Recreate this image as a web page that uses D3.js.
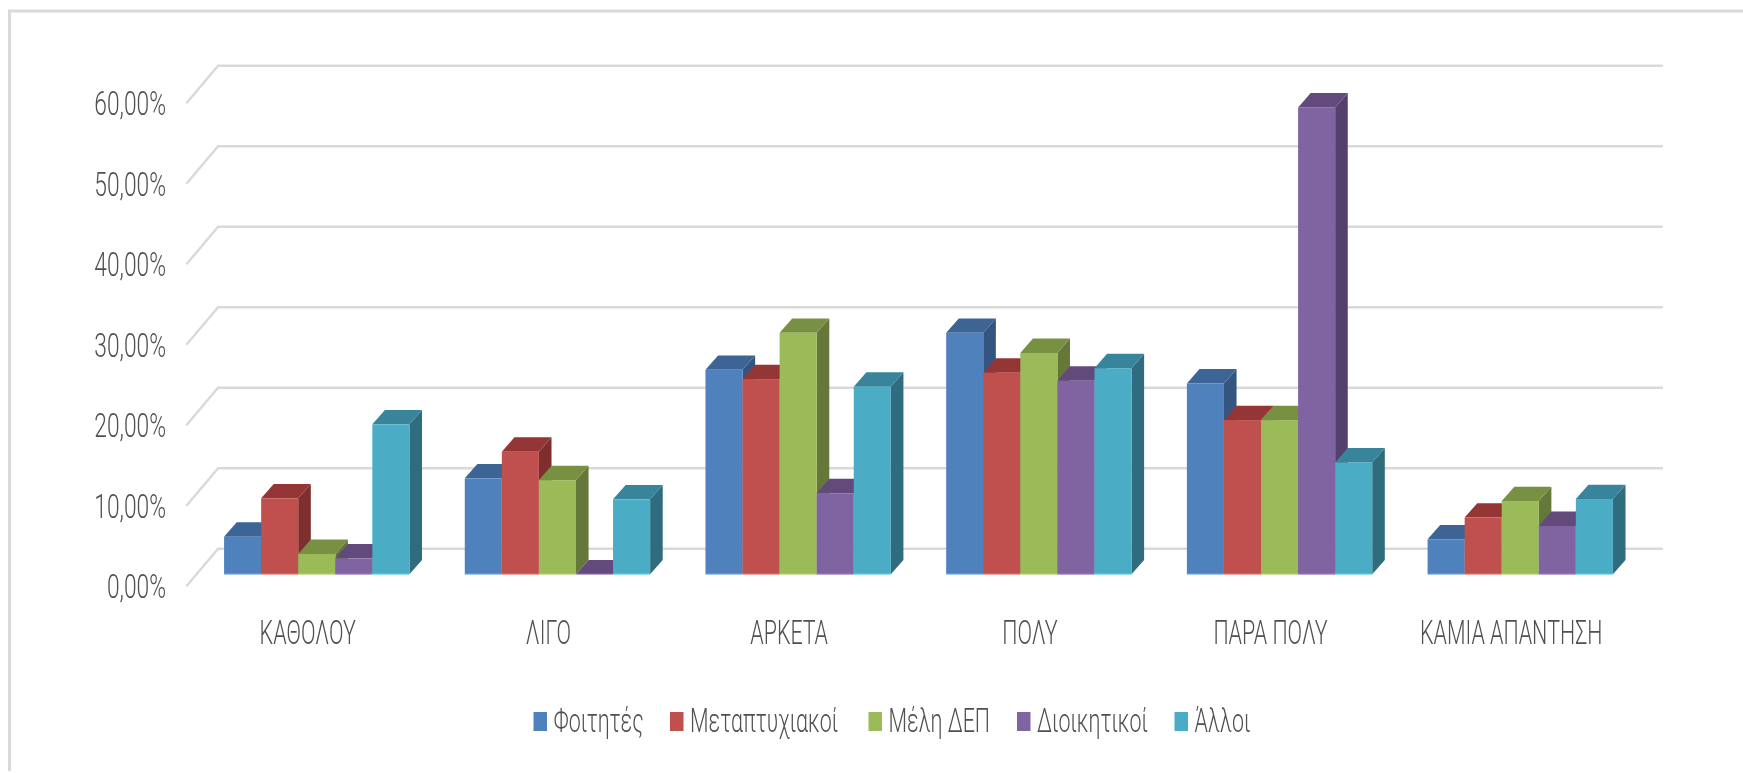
<!DOCTYPE html>
<html>
<head>
<meta charset="utf-8">
<script src="https://cdn.jsdelivr.net/npm/d3@7"></script>
<style>
html,body{margin:0;padding:0;background:#fff;overflow:hidden}
svg{display:block;filter:blur(0.6px)}
text{font-family:Roboto,"Liberation Sans Narrow",sans-serif;font-weight:300;fill:#505050}
</style>
</head>
<body>
<svg id="chart" width="1743" height="773"></svg>
<script>
const categories = ["ΚΑΘΟΛΟΥ","ΛΙΓΟ","ΑΡΚΕΤΑ","ΠΟΛΥ","ΠΑΡΑ ΠΟΛΥ","ΚΑΜΙΑ ΑΠΑΝΤΗΣΗ"];
const seriesNames = ["Φοιτητές","Μεταπτυχιακοί","Μέλη ΔΕΠ","Διοικητικοί","Άλλοι"];
const foititesValues = [4.67,11.92,25.4,30.0,23.7,4.35];
const metaptyxiakoiValues = [9.44,15.23,24.25,25.05,19.16,7.05];
const meliDepValues = [2.52,11.7,30.0,27.5,19.16,9.1];
const dioikitikoiValues = [1.98,0,10.07,24.05,58.0,6.0];
const alloiValues = [18.63,9.31,23.3,25.6,13.9,9.35];
const yTicks = [0,10,20,30,40,50,60];

const allSeries = [foititesValues,metaptyxiakoiValues,meliDepValues,dioikitikoiValues,alloiValues];
const frontColors = ["#4f81bd","#c0504d","#9bbb59","#8064a2","#4bacc6"];
const topColors   = ["#3c6494","#933635","#779042","#624a7c","#37849b"];
const sideColors  = ["#33557f","#7e2e2c","#65783a","#54406b","#2f6c7e"];
const baseColors  = ["#a8c8ea","#eba9a5","#cfe0a0","#b8a4d0","#9be0f0"];

const svg = d3.select("#chart");
const locale = d3.formatLocale({decimal:",",thousands:".",grouping:[3],currency:["","€"]});
const fmt = v => locale.format(".2f")(v) + "%";

// front plane of the bars
const x = d3.scaleBand().domain(categories).range([196.4,1640.6]).paddingInner(0.23).paddingOuter(0.115);
const xs = d3.scaleBand().domain(d3.range(seriesNames.length)).range([0,x.bandwidth()]);
const y = d3.scaleLinear().domain([0,60]).range([574.3,91.3]);

// frame
svg.append("path").attr("d","M9.5,771V11H1743").attr("fill","none").attr("stroke","#d9d9d9").attr("stroke-width",3);

// walls: depth offsets of the axis frame relative to the bar plane
const floorDx = -10, floorDy = 12, wallDx = 21.7, wallDy = -25.6;
const right = 1640.6;

const grid = svg.append("g");
yTicks.forEach(t=>{
  const yf = y(t)+floorDy, xf = 196.4+floorDx;
  grid.append("path")
    .attr("d",`M${xf},${yf}L${196.4+wallDx},${y(t)+wallDy}L${right+wallDx+0.5},${y(t)+wallDy}`)
    .attr("fill","none").attr("stroke","#d9d9d9").attr("stroke-width",2.4);
});

// y axis labels
const yAxisG = svg.append("g").attr("transform",`translate(166,${floorDy})`)
  .call(d3.axisLeft(y).tickValues(yTicks).tickFormat(fmt).tickSize(0).tickPadding(0));
yAxisG.select(".domain").remove();
yAxisG.selectAll("text")
  .attr("x",0).attr("dy",null).attr("y",0)
  .attr("text-anchor","end")
  .attr("transform","translate(0,11.2) scale(0.69,1)")
  .style("font-size","33px").style("font-family",null);

// bars
const barDx = 12.6, barDy = 14.4;
const w = xs.bandwidth();
const bars = svg.append("g");
categories.forEach((c,ci)=>{
  allSeries.forEach((vals,si)=>{
    const x0 = x(c)+xs(si), x1 = x0+w, yt = y(vals[ci]), yb = y(0);
    const g = bars.append("g");
    g.append("path").attr("fill",sideColors[si])
      .attr("d",`M${x1},${yt}L${x1+barDx},${yt-barDy}L${x1+barDx},${yb-barDy}L${x1},${yb}Z`);
    g.append("path").attr("fill",topColors[si])
      .attr("d",`M${x0},${yt}L${x0+barDx},${yt-barDy}L${x1+barDx},${yt-barDy}L${x1},${yt}Z`);
    g.append("rect").attr("x",x0).attr("y",yt).attr("width",w).attr("height",yb-yt).attr("fill",frontColors[si]);
    g.append("line").attr("x1",x0).attr("x2",x1).attr("y1",yb).attr("y2",yb).attr("stroke",baseColors[si]).attr("stroke-width",1.2);
  });
});

// x axis labels
const xAxisG = svg.append("g").attr("transform","translate(-9,644)")
  .call(d3.axisBottom(x).tickSize(0).tickPadding(0));
xAxisG.select(".domain").remove();
xAxisG.selectAll("text")
  .attr("y",0).attr("dy",null).attr("x",0)
  .attr("text-anchor","middle")
  .attr("transform","scale(0.65,1)")
  .style("font-size","33px").style("font-family",null);

// legend
const legendX = [533.5,670,868.5,1017,1174.5];
const legend = svg.append("g");
seriesNames.forEach((n,i)=>{
  legend.append("rect").attr("x",legendX[i]).attr("y",712).attr("width",13.5).attr("height",19).attr("fill",frontColors[i]);
  legend.append("text").text(n)
    .attr("transform",`translate(${legendX[i]+20},732) scale(0.65,1)`)
    .style("font-size","33px");
});
</script>
</body>
</html>
